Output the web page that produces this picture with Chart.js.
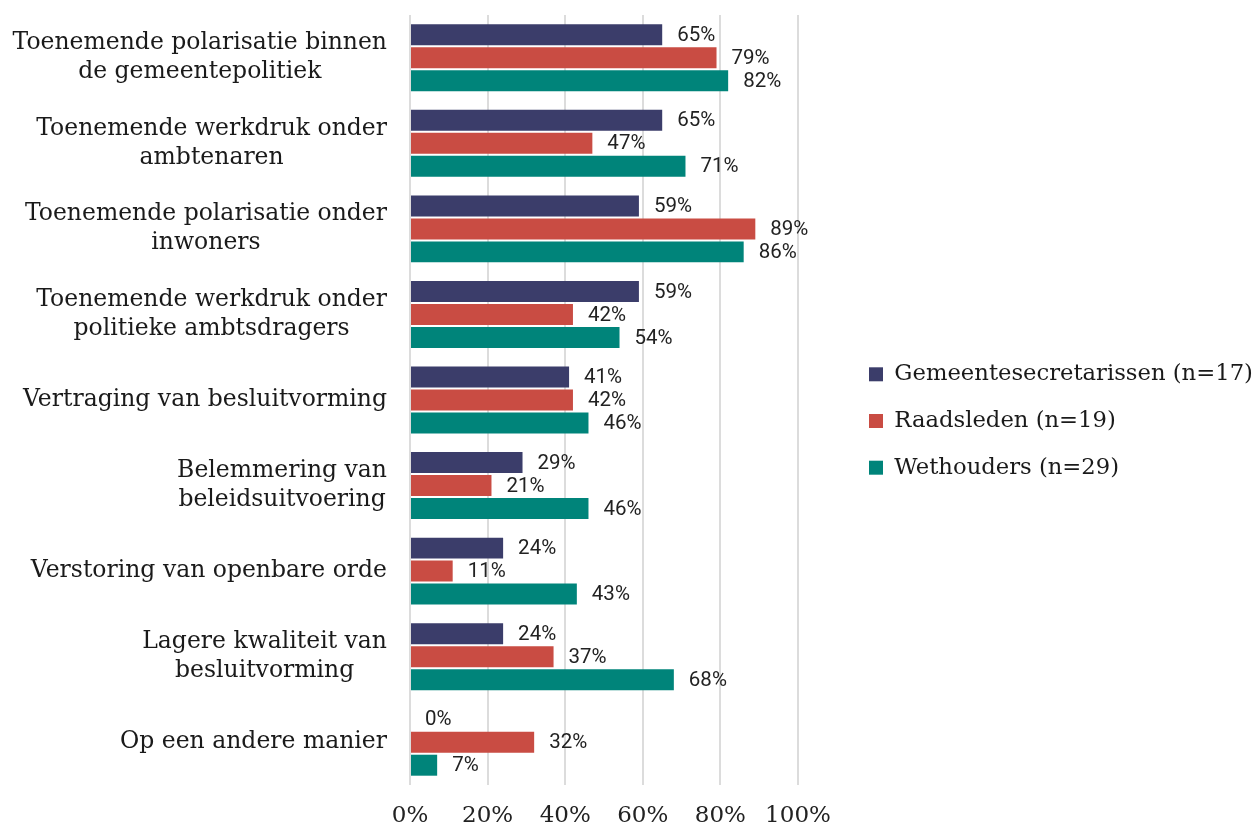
<!DOCTYPE html>
<html>
<head>
<meta charset="utf-8">
<script src="https://cdn.jsdelivr.net/npm/chart.js@4/dist/chart.umd.min.js"></script>
<style>
  html, body { margin: 0; padding: 0; background: #ffffff; }
  #wrap { width: 1253px; height: 827px; position: relative; }
</style>
</head>
<body>
<div id="wrap"><canvas id="c"></canvas></div>
<script>
const categories = [
  ["Toenemende polarisatie binnen", "de gemeentepolitiek"],
  ["Toenemende werkdruk onder", "ambtenaren"],
  ["Toenemende polarisatie onder", "inwoners"],
  ["Toenemende werkdruk onder", "politieke ambtsdragers"],
  ["Vertraging van besluitvorming"],
  ["Belemmering van", "beleidsuitvoering"],
  ["Verstoring van openbare orde"],
  ["Lagere kwaliteit van", "besluitvorming"],
  ["Op een andere manier"]
];
const seriesNames = ["Gemeentesecretarissen (n=17)", "Raadsleden (n=19)", "Wethouders (n=29)"];
const gemeentesecretarissen = [65, 65, 59, 59, 41, 29, 24, 24, 0];
const raadsleden = [79, 47, 89, 42, 42, 21, 11, 37, 32];
const wethouders = [82, 71, 86, 54, 46, 46, 43, 68, 7];
const xTickLabels = ["0%", "20%", "40%", "60%", "80%", "100%"];
const seriesColors = ["#3b3d6a", "#c94c43", "#00847a"];

const SERIF = "'DejaVu Serif', 'Liberation Serif', serif";
const SANS = "Roboto, 'Noto Sans', sans-serif";

const yLabelPlugin = {
  id: 'yLabels',
  afterDraw(chart) {
    const ctx = chart.ctx;
    const y = chart.scales.y;
    ctx.save();
    ctx.font = "23.5px " + SERIF;
    ctx.fillStyle = "#1a1a1a";
    ctx.textAlign = "center";
    ctx.textBaseline = "middle";
    const right = 387;
    const lh = 29;
    categories.forEach((lines, i) => {
      const cy = y.getPixelForValue(i);
      const w = Math.max(...lines.map(l => ctx.measureText(l).width));
      const cx = right - w / 2;
      const start = cy - (lines.length - 1) * lh / 2;
      lines.forEach((l, j) => ctx.fillText(l, cx, start + j * lh));
    });
    ctx.restore();
  }
};

const valueLabelPlugin = {
  id: 'valueLabels',
  afterDatasetsDraw(chart) {
    const ctx = chart.ctx;
    ctx.save();
    ctx.font = "20.5px " + SANS;
    ctx.fillStyle = "#222222";
    ctx.textAlign = "left";
    ctx.textBaseline = "middle";
    chart.data.datasets.forEach((ds, di) => {
      const meta = chart.getDatasetMeta(di);
      meta.data.forEach((bar, i) => {
        ctx.fillText(ds.data[i] + "%", bar.x + 15, bar.y + 1);
      });
    });
    ctx.restore();
  }
};

new Chart(document.getElementById('c'), {
  type: 'bar',
  data: {
    labels: categories,
    datasets: [
      { label: seriesNames[0], data: gemeentesecretarissen, backgroundColor: seriesColors[0] },
      { label: seriesNames[1], data: raadsleden, backgroundColor: seriesColors[1] },
      { label: seriesNames[2], data: wethouders, backgroundColor: seriesColors[2] }
    ]
  },
  options: {
    indexAxis: 'y',
    responsive: true,
    maintainAspectRatio: false,
    animation: false,
    datasets: { bar: { categoryPercentage: 0.806, barPercentage: 0.913, borderWidth: 0 } },
    layout: { padding: { top: 15, right: 0, bottom: 0, left: 0 } },
    scales: {
      x: {
        min: 0, max: 100,
        ticks: {
          stepSize: 20,
          padding: 17,
          color: "#222222",
          font: { family: SERIF, size: 23 },
          callback: (v, i) => xTickLabels[i]
        },
        grid: { color: "#dcdcdc", lineWidth: 2, drawTicks: false },
        border: { display: false },
        afterFit(s) { s.height = 42; }
      },
      y: {
        ticks: { display: false },
        grid: { display: false },
        border: { display: false },
        afterFit(s) { s.width = 410; }
      },
      yR: {
        type: 'linear',
        position: 'right',
        display: true,
        ticks: { display: false },
        grid: { display: false },
        border: { display: false },
        afterFit(s) { s.width = 47; }
      }
    },
    plugins: {
      legend: {
        position: 'right',
        align: 'center',
        maxWidth: 408,
        labels: {
          boxWidth: 14,
          boxHeight: 14,
          padding: 24,
          color: "#1a1a1a",
          font: { family: SERIF, size: 22.7 }
        }
      },
      tooltip: { enabled: false }
    }
  },
  plugins: [yLabelPlugin, valueLabelPlugin]
});
</script>
</body>
</html>
